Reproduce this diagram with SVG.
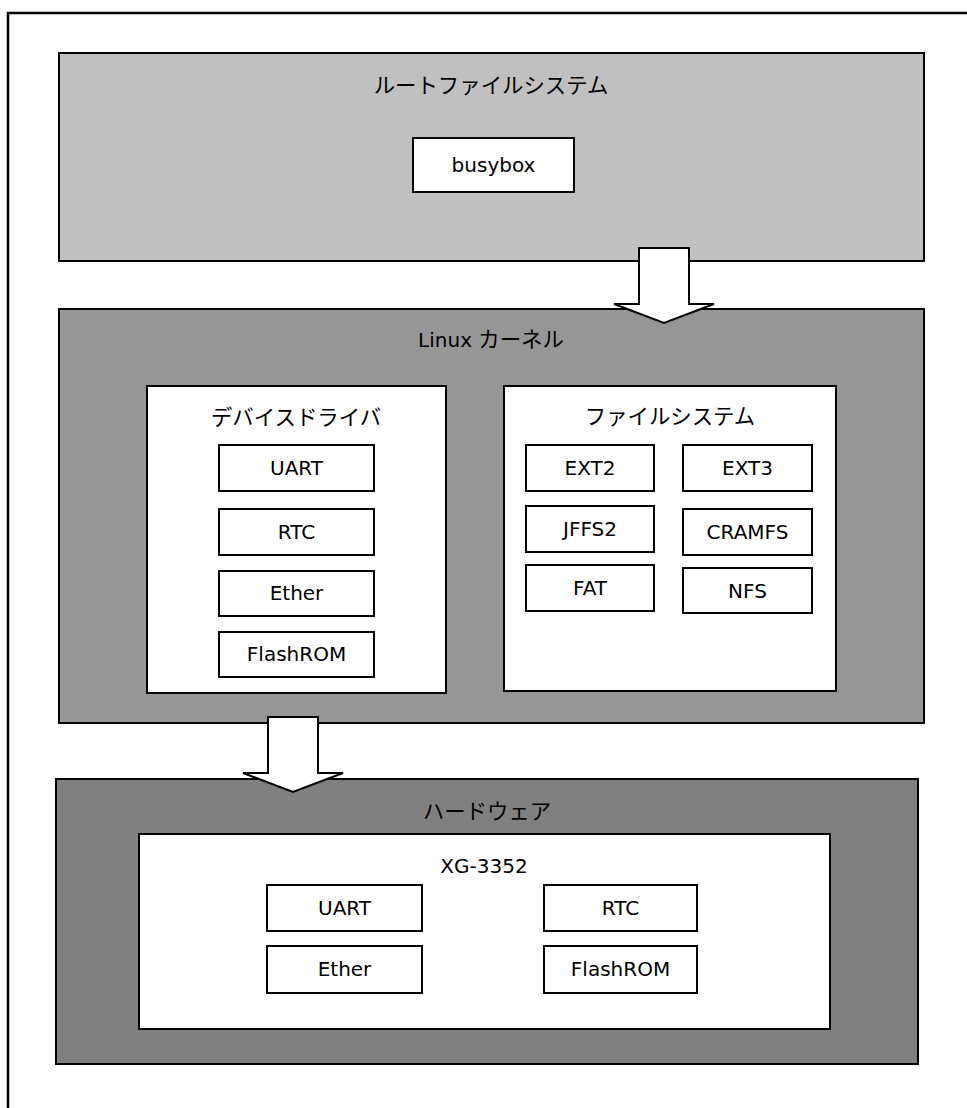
<svg xmlns="http://www.w3.org/2000/svg" width="967" height="1108" viewBox="0 0 967 1108">
<style>
.box{fill:#fff;stroke:#000;stroke-width:2}
.lat{font-family:"DejaVu Sans","Noto Sans CJK JP",sans-serif;font-size:20px;fill:#000;text-anchor:middle}
.jp{font-family:"Noto Sans CJK JP",sans-serif;font-size:21.4px;fill:#000;text-anchor:middle}
.arrow{fill:#fff;stroke:#000;stroke-width:2;stroke-linejoin:miter}
</style>
<path d="M8,1120 L8,13 L980,13" fill="none" stroke="#000" stroke-width="2.5"/>
<g id="rootfs">
<rect x="59" y="53" width="865" height="208" fill="#c0c0c0" stroke="#000" stroke-width="2"/>
<text class="jp" x="491" y="93">ルートファイルシステム</text>
</g>
<g id="busybox">
<rect class="box" x="413" y="138" width="161" height="54"/>
<text class="lat" x="493.5" y="172">busybox</text>
</g>
<g id="kernel">
<rect x="59" y="309" width="865" height="414" fill="#969696" stroke="#000" stroke-width="2"/>
<text class="lat" x="491" y="347">Linux <tspan font-family="Noto Sans CJK JP, sans-serif" font-size="21.4">カーネル</tspan></text>
</g>
<g id="drivers">
<rect class="box" x="147" y="386" width="299" height="307"/>
<text class="jp" x="296" y="425">デバイスドライバ</text>
</g>
<g id="drv-uart"><rect class="box" x="219" y="445" width="155" height="46"/><text class="lat" x="296.5" y="475">UART</text></g>
<g id="drv-rtc"><rect class="box" x="219" y="509" width="155" height="46"/><text class="lat" x="296.5" y="539">RTC</text></g>
<g id="drv-ether"><rect class="box" x="219" y="571" width="155" height="45"/><text class="lat" x="296.5" y="600">Ether</text></g>
<g id="drv-flash"><rect class="box" x="219" y="632" width="155" height="45"/><text class="lat" x="296.5" y="661">FlashROM</text></g>
<g id="filesystems">
<rect class="box" x="504" y="386" width="332" height="305"/>
<text class="jp" x="670" y="424">ファイルシステム</text>
</g>
<g id="fs-ext2"><rect class="box" x="526" y="445" width="128" height="46"/><text class="lat" x="590" y="475">EXT2</text></g>
<g id="fs-ext3"><rect class="box" x="683" y="445" width="129" height="46"/><text class="lat" x="747.5" y="475">EXT3</text></g>
<g id="fs-jffs2"><rect class="box" x="526" y="506" width="128" height="46"/><text class="lat" x="590" y="536">JFFS2</text></g>
<g id="fs-cramfs"><rect class="box" x="683" y="509" width="129" height="46"/><text class="lat" x="747.5" y="539">CRAMFS</text></g>
<g id="fs-fat"><rect class="box" x="526" y="565" width="128" height="46"/><text class="lat" x="590" y="595">FAT</text></g>
<g id="fs-nfs"><rect class="box" x="683" y="568" width="129" height="45"/><text class="lat" x="747.5" y="598">NFS</text></g>
<g id="hardware">
<rect x="56" y="779" width="862" height="285" fill="#808080" stroke="#000" stroke-width="2"/>
<text class="jp" x="487" y="819">ハードウェア</text>
</g>
<g id="xg3352">
<rect class="box" x="139" y="834" width="691" height="195"/>
<text class="lat" x="484" y="873">XG-3352</text>
</g>
<g id="hw-uart"><rect class="box" x="267" y="885" width="155" height="46"/><text class="lat" x="344.5" y="915">UART</text></g>
<g id="hw-ether"><rect class="box" x="267" y="946" width="155" height="47"/><text class="lat" x="344.5" y="976">Ether</text></g>
<g id="hw-rtc"><rect class="box" x="544" y="885" width="153" height="46"/><text class="lat" x="620.5" y="915">RTC</text></g>
<g id="hw-flash"><rect class="box" x="544" y="946" width="153" height="47"/><text class="lat" x="620.5" y="976">FlashROM</text></g>
<g id="connectors">
<polygon class="arrow" points="639,248 689,248 689,304 714,304 664,323 614,304 639,304"/>
<polygon class="arrow" points="268,717 318,717 318,773 343,773 293,792 243,773 268,773"/>
</g>
</svg>
